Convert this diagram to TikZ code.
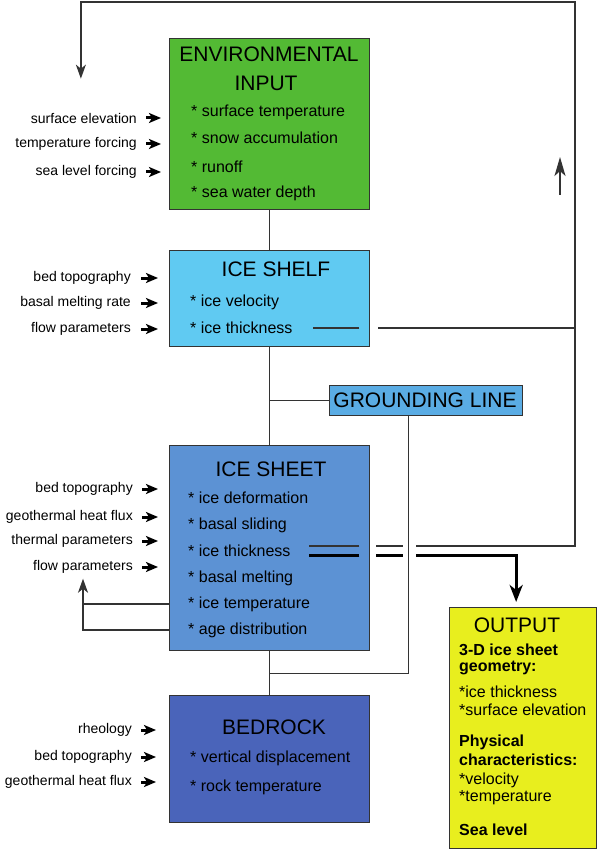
\documentclass[tikz,border=0pt]{standalone}
\usepackage{fontspec}
\setmainfont{Liberation Sans}
\usetikzlibrary{arrows.meta, calc}
\definecolor{envgreen}{RGB}{83,186,52}
\definecolor{shelfblue}{RGB}{96,202,242}
\definecolor{glblue}{RGB}{90,172,228}
\definecolor{sheetblue}{RGB}{92,146,212}
\definecolor{rockblue}{RGB}{74,100,186}
\definecolor{outyellow}{RGB}{232,238,30}
\tikzset{box/.style={draw=black!80, line width=1.3pt, anchor=north west, inner sep=0pt},
        title/.style={font=\fontsize{21}{24}\selectfont, inner sep=0pt},
        item/.style={font=\fontsize{16}{19}\selectfont, anchor=west, inner sep=0pt},
        feed/.style={font=\fontsize{14}{16}\selectfont, anchor=east, inner sep=0pt},
        inarrow/.style={line width=3pt, -{Stealth[length=12pt, width=10pt, inset=3pt]}},
        link/.style={draw=black!80, line width=1.3pt},
        fat link/.style={draw=black, line width=3pt}}

\begin{document}
\begin{tikzpicture}[x=1pt, y=-1pt]
    \useasboundingbox (0,0) rectangle (597,850);

    % the five model boxes and the output box
    \node[box, fill=envgreen, minimum width=200pt, minimum height=171pt] (env) at (169,38) {};
    \node[box, fill=shelfblue, minimum width=200pt, minimum height=96pt] (shelf) at (169,250) {};
    \node[box, fill=glblue, minimum width=193pt, minimum height=30pt] (gl) at (329,385) {};
    \node[box, fill=sheetblue, minimum width=200pt, minimum height=205pt] (sheet) at (169,445) {};
    \node[box, fill=rockblue, minimum width=200pt, minimum height=127pt] (rock) at (169,695) {};
    \node[box, fill=outyellow, minimum width=147pt, minimum height=241pt] (out) at (449,607) {};

    % titles
    \node[title] (env-t1) at (269,54) {ENVIRONMENTAL};
    \node[title] (env-t2) at (266,83) {INPUT};
    \node[title] (shelf-t) at (276,269) {ICE SHELF};
    \node[title] (gl-t) at (425,400) {GROUNDING LINE};
    \node[title] (sheet-t) at (271,469) {ICE SHEET};
    \node[title] (rock-t) at (274,727) {BEDROCK};
    \node[title] (out-t) at (517,625) {OUTPUT};

    % items inside the boxes
    \foreach \t/\y [count=\i] in {surface temperature/112, snow accumulation/138, runoff/167, sea water depth/193}
      \node[item] (env-i\i) at (191,\y) {* \t};
    \foreach \t/\y [count=\i] in {ice velocity/302, ice thickness/328}
      \node[item] (shelf-i\i) at (190,\y) {* \t};
    \foreach \t/\y [count=\i] in {ice deformation/498, basal sliding/525, ice thickness/551, basal melting/578, ice temperature/604, age distribution/630}
      \node[item] (sheet-i\i) at (188,\y) {* \t};
    \foreach \t/\y [count=\i] in {vertical displacement/758, rock temperature/787}
      \node[item] (rock-i\i) at (190,\y) {* \t};
    \foreach \t/\y/\f [count=\i] in {3-D ice sheet/650/\bfseries, geometry:/668/\bfseries, *ice thickness/692/, *surface elevation/710/,
        Physical/742/\bfseries, characteristics:/760/\bfseries, *velocity/780/, *temperature/798/, Sea level/830/\bfseries}
      \node[item, font=\fontsize{16}{19}\selectfont\f] (out-i\i) at (459,\y) {\t};

    % inputs on the left
    \foreach \t/\y [count=\i] in {surface elevation/118, temperature forcing/144, sea level forcing/172} {
      \node[feed] (env-f\i) at (137,\y) {\t};
      \draw[inarrow] ([xshift=9pt]env-f\i.east) -- ([xshift=-8pt]env-f\i.east -| env.west);
    }
    \foreach \t/\y [count=\i] in {bed topography/278, basal melting rate/303, flow parameters/329} {
      \node[feed] (shelf-f\i) at (131,\y) {\t};
      \draw[inarrow] ([xshift=10pt]shelf-f\i.east) -- ([xshift=-11pt]shelf-f\i.east -| shelf.west);
    }
    \foreach \t/\y [count=\i] in {bed topography/489, geothermal heat flux/517, thermal parameters/541, flow parameters/567} {
      \node[feed] (sheet-f\i) at (133,\y) {\t};
      \draw[inarrow] ([xshift=9pt]sheet-f\i.east) -- ([xshift=-11pt]sheet-f\i.east -| sheet.west);
    }
    \foreach \t/\y [count=\i] in {rheology/730, bed topography/757, geothermal heat flux/782} {
      \node[feed] (rock-f\i) at (132,\y) {\t};
      \draw[inarrow] ([xshift=9pt]rock-f\i.east) -- ([xshift=-13pt]rock-f\i.east -| rock.west);
    }

    % links between the boxes
    \draw[link] (env.south) -- (shelf.north);
    \draw[link] (shelf.south) -- (sheet.north);
    \draw[link] (gl.west) -- (gl.west -| shelf.south);
    \draw[link] (sheet.south) -- (rock.north);
    \coordinate (join) at ($(sheet.south)!0.5!(rock.north)$);
    \draw[link] ([xshift=-18pt]gl.south) |- (join);

    % ice thickness of the shelf into the loop
    \coordinate (rtop) at (575,2);
    \coordinate (s-th) at (shelf.east |- shelf-i2);
    \draw[link] ([xshift=-11pt]s-th) -- ([xshift=-57pt]s-th);
    \draw[link] ([xshift=8pt]s-th) -- (s-th -| rtop);

    % ice thickness of the sheet: thin back to the input, thick to the output
    \coordinate (i-th) at (sheet.east |- sheet-i3);
    \draw[link] ([xshift=-11pt, yshift=5pt]i-th) -- ([xshift=-61pt, yshift=5pt]i-th);
    \draw[fat link] ([xshift=-11pt, yshift=-4pt]i-th) -- ([xshift=-61pt, yshift=-4pt]i-th);
    \draw[link] ([xshift=6pt, yshift=5pt]i-th) -- ([xshift=33pt, yshift=5pt]i-th);
    \draw[fat link] ([xshift=6pt, yshift=-4pt]i-th) -- ([xshift=33pt, yshift=-4pt]i-th);
    \draw[link, -{Stealth[length=14pt, width=10pt, inset=4pt]}]
      ([xshift=46pt, yshift=5pt]i-th) -| (rtop) -| ([xshift=-3pt, yshift=34pt]env-f1.north);
    \draw[fat link, -{Stealth[length=17pt, width=13pt, inset=5pt]}, shorten >=5pt]
      ([xshift=46pt, yshift=-4pt]i-th) -| ([xshift=-7pt]out.north);
    \draw[link, line width=2.2pt, -{Stealth[length=19pt, width=11pt, inset=5pt]}] (560,195) -- (560,157);

    % feedback of the sheet to its own inputs
    \draw[link] (sheet.west |- sheet-i5) -- (sheet-i5 -| sheet-f4.south);
    \draw[link, -{Stealth[length=14pt, width=10pt, inset=4pt]}] (sheet.west |- sheet-i6) -| ([yshift=-5pt]sheet-f4.south);
\end{tikzpicture}
\end{document}
